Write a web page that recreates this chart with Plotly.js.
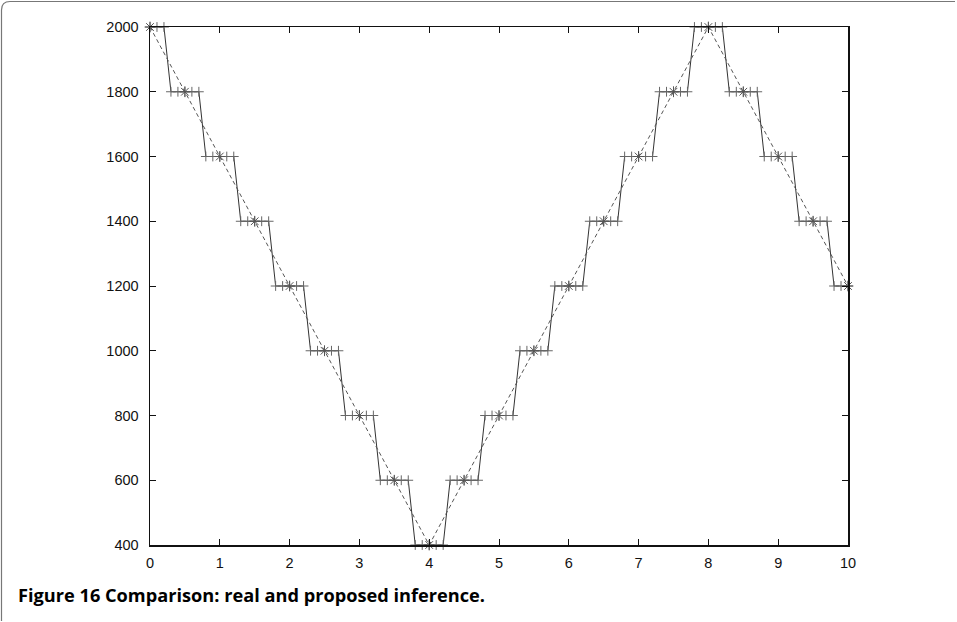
<!DOCTYPE html>
<html>
<head>
<meta charset="utf-8">
<script src="https://cdn.plot.ly/plotly-3.0.1.min.js"></script>
<style>
  html, body { margin: 0; padding: 0; background: #fff; }
  #chart { width: 957px; height: 622px; }
</style>
</head>
<body>
<div id="chart"></div>
<script>
// "Proposed inference": quantized values sampled every 0.1
const proposedX = [
  0.0,0.1,0.2,0.3,0.4,0.5,0.6,0.7,0.8,0.9,
  1.0,1.1,1.2,1.3,1.4,1.5,1.6,1.7,1.8,1.9,
  2.0,2.1,2.2,2.3,2.4,2.5,2.6,2.7,2.8,2.9,
  3.0,3.1,3.2,3.3,3.4,3.5,3.6,3.7,3.8,3.9,
  4.0,4.1,4.2,4.3,4.4,4.5,4.6,4.7,4.8,4.9,
  5.0,5.1,5.2,5.3,5.4,5.5,5.6,5.7,5.8,5.9,
  6.0,6.1,6.2,6.3,6.4,6.5,6.6,6.7,6.8,6.9,
  7.0,7.1,7.2,7.3,7.4,7.5,7.6,7.7,7.8,7.9,
  8.0,8.1,8.2,8.3,8.4,8.5,8.6,8.7,8.8,8.9,
  9.0,9.1,9.2,9.3,9.4,9.5,9.6,9.7,9.8,9.9,
  10.0
];
const proposedY = [
  2000,2000,2000,1800,1800,1800,1800,1800,1600,1600,
  1600,1600,1600,1400,1400,1400,1400,1400,1200,1200,
  1200,1200,1200,1000,1000,1000,1000,1000,800,800,
  800,800,800,600,600,600,600,600,400,400,
  400,400,400,600,600,600,600,600,800,800,
  800,800,800,1000,1000,1000,1000,1000,1200,1200,
  1200,1200,1200,1400,1400,1400,1400,1400,1600,1600,
  1600,1600,1600,1800,1800,1800,1800,1800,2000,2000,
  2000,2000,2000,1800,1800,1800,1800,1800,1600,1600,
  1600,1600,1600,1400,1400,1400,1400,1400,1200,1200,
  1200
];
// "Real" values every 0.5
const realX = [0,0.5,1,1.5,2,2.5,3,3.5,4,4.5,5,5.5,6,6.5,7,7.5,8,8.5,9,9.5,10];
const realY = [2000,1800,1600,1400,1200,1000,800,600,400,600,800,1000,1200,1400,1600,1800,2000,1800,1600,1400,1200];

const xTicks = [0,1,2,3,4,5,6,7,8,9,10];
const yTicks = [400,600,800,1000,1200,1400,1600,1800,2000];
const caption = 'Figure 16 Comparison: real and proposed inference.';

// layout geometry (pixels)
const W = 957, H = 622;
const M = {l: 150, r: 109, t: 27, b: 77};
const pw = W - M.l - M.r, ph = H - M.t - M.b;
const px = p => (p - M.l) / pw;
const py = p => (H - M.b - p) / ph;

const traces = [
  {
    x: proposedX, y: proposedY, type: 'scatter', mode: 'lines+markers',
    line: {color: '#333', width: 1},
    marker: {symbol: 'cross-thin-open', size: 7, color: '#666', line: {color: '#666', width: 1}},
    cliponaxis: false, showlegend: false, hoverinfo: 'skip'
  },
  {
    x: realX, y: realY, type: 'scatter', mode: 'lines+markers',
    line: {color: '#555', width: 1, dash: '4px,3px'},
    marker: {symbol: 'asterisk-open', size: 9, color: '#555', line: {color: '#555', width: 1}},
    cliponaxis: false, showlegend: false, hoverinfo: 'skip'
  }
];

const framePath = 'M ' + px(1.5) + ',' + py(621) + ' L ' + px(1.5) + ',' + py(10) +
  ' Q ' + px(1.5) + ',' + py(1.5) + ' ' + px(10) + ',' + py(1.5) +
  ' L ' + px(955) + ',' + py(1.5);

const axisCommon = {
  showgrid: false, zeroline: false, showline: true, linecolor: '#111', linewidth: 1.5,
  mirror: 'ticks', ticks: 'inside', ticklen: 6, tickwidth: 1, tickcolor: '#111',
  tickfont: {family: 'Liberation Sans, Arial, sans-serif', size: 14.5, color: '#111'}
};

const layout = {
  width: W, height: H,
  margin: M,
  paper_bgcolor: '#fff', plot_bgcolor: '#fff',
  showlegend: false,
  xaxis: Object.assign({}, axisCommon, {range: [0, 10], tickvals: xTicks, ticktext: xTicks.map(String), ticklabelstandoff: 4}),
  yaxis: Object.assign({}, axisCommon, {range: [400, 2000], tickvals: yTicks, ticktext: yTicks.map(String), ticklabelstandoff: 7}),
  shapes: [
    {type: 'path', xref: 'paper', yref: 'paper', path: framePath, line: {color: '#777', width: 1.2}}
  ],
  annotations: [
    {text: '<b>' + caption + '</b>', xref: 'paper', yref: 'paper', x: px(16), y: py(595),
     xanchor: 'left', yanchor: 'middle', showarrow: false,
     font: {family: 'Open Sans, Noto Sans, sans-serif', size: 18.2, color: '#000'}}
  ]
};

Plotly.newPlot('chart', traces, layout, {staticPlot: true, displayModeBar: false});
</script>
</body>
</html>
